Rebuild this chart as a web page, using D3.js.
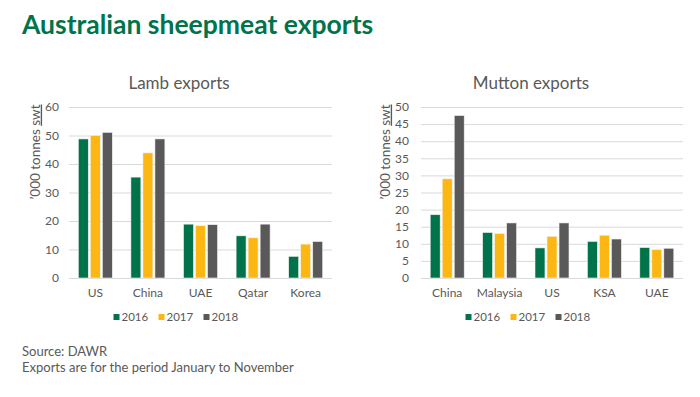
<!DOCTYPE html>
<html>
<head>
<meta charset="utf-8">
<script src="https://cdn.jsdelivr.net/npm/d3@7"></script>
<style>
  body { margin: 0; background: #fff; }
  text { font-family: Lato, "Open Sans", sans-serif; }
</style>
</head>
<body>
<svg id="chart" width="700" height="397"></svg>
<script>
// data ('000 tonnes swt)
var years = ["2016", "2017", "2018"];
var yearColors = ["#00734A", "#FDB713", "#595959"];

var lambCountries = ["US", "China", "UAE", "Qatar", "Korea"];
var lamb2016 = [48.8, 35.4, 18.9, 14.8, 7.6];
var lamb2017 = [50.0, 43.9, 18.4, 14.1, 11.9];
var lamb2018 = [51.1, 48.8, 18.7, 18.9, 12.8];
var lambTicks = [0, 10, 20, 30, 40, 50, 60];

var muttonCountries = ["China", "Malaysia", "US", "KSA", "UAE"];
var mutton2016 = [18.5, 13.3, 8.8, 10.7, 8.9];
var mutton2017 = [29.0, 13.0, 12.2, 12.5, 8.3];
var mutton2018 = [47.5, 16.1, 16.1, 11.4, 8.7];
var muttonTicks = [0, 5, 10, 15, 20, 25, 30, 35, 40, 45, 50];

var svg = d3.select("#chart");
var textColor = "#595959";

svg.append("text")
  .attr("x", 22)
  .attr("y", 34)
  .attr("fill", "#00734A")
  .style("font-weight", "bold")
  .style("font-size", "26.5px")
  .text("Australian sheepmeat exports");

function drawPanel(opts) {
  var g = svg.append("g").attr("class", "panel");

  var rows = opts.categories.map(function (c, i) {
    return { cat: c, values: opts.series.map(function (s) { return s[i]; }) };
  });

  var x0 = d3.scaleBand()
    .domain(opts.categories)
    .range([opts.left, opts.right])
    .padding(0);

  var x1 = d3.scaleBand()
    .domain(years)
    .range([-17, 17])
    .paddingInner(0.17);

  var y = d3.scaleLinear()
    .domain([0, opts.max])
    .range([278, 107]);

  // gridlines
  g.selectAll(".grid")
    .data(opts.ticks)
    .enter()
    .append("line")
    .attr("class", "grid")
    .attr("x1", opts.left)
    .attr("x2", opts.right)
    .attr("y1", function (d) { return y(d) + 0.5; })
    .attr("y2", function (d) { return y(d) + 0.5; })
    .attr("stroke", "#d9d9d9")
    .attr("stroke-width", 1);

  // y tick labels
  g.selectAll(".ytick")
    .data(opts.ticks)
    .enter()
    .append("text")
    .attr("class", "ytick")
    .attr("x", opts.left - opts.labelGap)
    .attr("y", function (d) { return y(d); })
    .attr("dy", "0.35em")
    .attr("text-anchor", "end")
    .attr("fill", textColor)
    .style("font-size", "12px")
    .text(function (d) { return d; });

  // bars
  var groups = g.selectAll(".cat")
    .data(rows)
    .enter()
    .append("g")
    .attr("class", "cat")
    .attr("transform", function (d) { return "translate(" + (x0(d.cat) + x0.bandwidth() / 2) + ",0)"; });

  groups.selectAll("rect")
    .data(function (d) { return d.values.map(function (v, i) { return { year: years[i], value: v, color: yearColors[i] }; }); })
    .enter()
    .append("rect")
    .attr("x", function (d) { return x1(d.year); })
    .attr("width", x1.bandwidth())
    .attr("y", function (d) { return y(d.value); })
    .attr("height", function (d) { return y(0) - y(d.value); })
    .attr("fill", function (d) { return d.color; })
    .attr("stroke", "#f2f2f2")
    .attr("stroke-width", 0.6);

  // category labels
  groups.append("text")
    .attr("y", 297)
    .attr("text-anchor", "middle")
    .attr("fill", textColor)
    .style("font-size", "12px")
    .text(function (d) { return d.cat; });

  // chart title
  g.append("text")
    .attr("x", opts.center)
    .attr("y", 89)
    .attr("text-anchor", "middle")
    .attr("fill", textColor)
    .style("font-size", "17px")
    .text(opts.title);

  // axis title
  var yt = g.append("text")
    .attr("transform", "translate(" + opts.axisX + ",152) rotate(-90)")
    .attr("text-anchor", "middle")
    .attr("dy", "0.35em")
    .attr("fill", textColor)
    .style("font-size", "13.5px");
  yt.append("tspan").text("\u2019000 tonnes ");
  yt.append("tspan")
    .style("text-decoration", "underline dotted")
    .style("text-decoration-color", "#e05050")
    .text("swt");

  // legend
  var itemW = 45;
  var legend = g.append("g")
    .attr("transform", "translate(" + (opts.center - itemW * 1.5 + 2) + ",317)");
  var items = legend.selectAll(".item")
    .data(years)
    .enter()
    .append("g")
    .attr("class", "item")
    .attr("transform", function (d, i) { return "translate(" + (i * itemW) + ",0)"; });
  items.append("rect")
    .attr("x", 0)
    .attr("y", -3)
    .attr("width", 6)
    .attr("height", 6)
    .attr("fill", function (d, i) { return yearColors[i]; });
  items.append("text")
    .attr("x", 8)
    .attr("dy", "0.35em")
    .attr("fill", textColor)
    .style("font-size", "11.5px")
    .text(function (d) { return d; });
}

drawPanel({
  title: "Lamb exports",
  categories: lambCountries,
  series: [lamb2016, lamb2017, lamb2018],
  ticks: lambTicks,
  max: 60,
  left: 69,
  right: 332,
  labelGap: 10,
  axisX: 35,
  center: 179
});

drawPanel({
  title: "Mutton exports",
  categories: muttonCountries,
  series: [mutton2016, mutton2017, mutton2018],
  ticks: muttonTicks,
  max: 50,
  left: 421,
  right: 683,
  labelGap: 12,
  axisX: 385,
  center: 531
});

// footnotes
svg.append("text")
  .attr("x", 22)
  .attr("y", 356)
  .attr("fill", textColor)
  .style("font-size", "13px")
  .text("Source: DAWR");

svg.append("text")
  .attr("x", 22)
  .attr("y", 372)
  .attr("fill", textColor)
  .style("font-size", "13px")
  .text("Exports are for the period January to November");
</script>
</body>
</html>
